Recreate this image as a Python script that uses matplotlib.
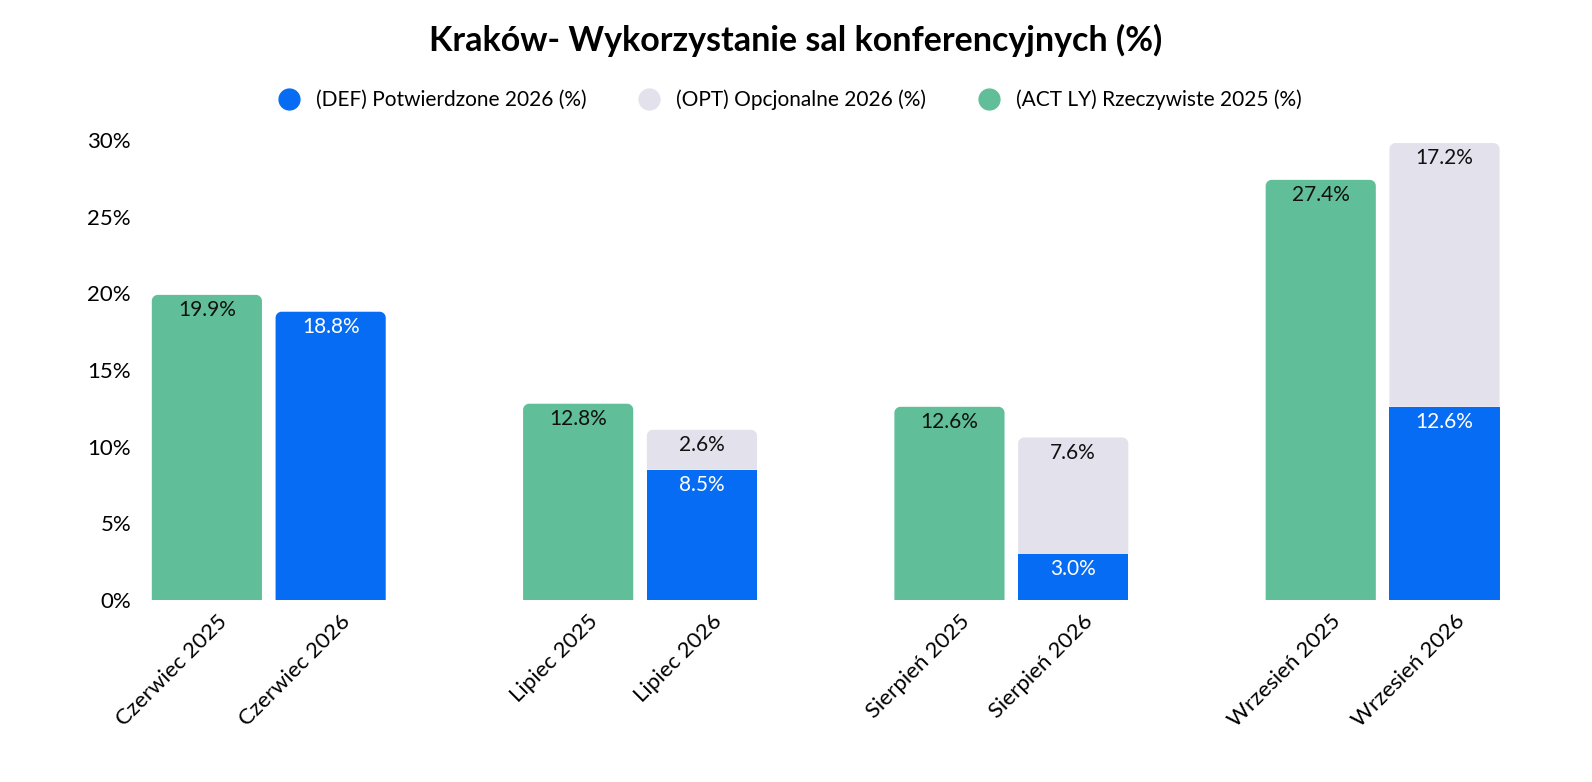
import matplotlib.pyplot as plt
from matplotlib.path import Path
from matplotlib.patches import PathPatch
from matplotlib.lines import Line2D

plt.rcParams['font.family'] = ['Lato', 'DejaVu Sans']

# Dane
miesiace = ['Czerwiec', 'Lipiec', 'Sierpień', 'Wrzesień']
act_2025 = [19.9, 12.8, 12.6, 27.4]   # (ACT LY) Rzeczywiste 2025
def_2026 = [18.8, 8.5, 3.0, 12.6]     # (DEF) Potwierdzone 2026
opt_2026 = [0.0, 2.6, 7.6, 17.2]      # (OPT) Opcjonalne 2026

kol_act = '#60bf98'
kol_def = '#076cf4'
kol_opt = '#e3e1ec'

fig = plt.figure(figsize=(15.92, 7.82), dpi=100)
ax = fig.add_axes([145 / 1592, 1 - 600 / 782, (1520 - 145) / 1592, 460 / 782])

poz_act = [3 * i for i in range(len(miesiace))]
poz_26 = [3 * i + 1 for i in range(len(miesiace))]
szer = 0.89

ax.set_xlim(-0.5, 10.61)
ax.set_ylim(0, 30)

# promien zaokraglenia w jednostkach danych
rx = 6 / 123.7
ry = 6 / 15.33


def zaokraglony(x, y0, w, h, kolor):
    # prostokat z zaokraglonymi gornymi rogami
    x0, x1, y1 = x - w / 2, x + w / 2, y0 + h
    k = 0.55
    verts = [(x0, y0), (x0, y1 - ry), (x0, y1 - ry + k * ry), (x0 + rx - k * rx, y1), (x0 + rx, y1),
             (x1 - rx, y1), (x1 - rx + k * rx, y1), (x1, y1 - ry + k * ry), (x1, y1 - ry),
             (x1, y0), (x0, y0)]
    codes = [Path.MOVETO, Path.LINETO, Path.CURVE4, Path.CURVE4, Path.CURVE4,
             Path.LINETO, Path.CURVE4, Path.CURVE4, Path.CURVE4,
             Path.LINETO, Path.CLOSEPOLY]
    ax.add_patch(PathPatch(Path(verts, codes), facecolor=kolor, edgecolor='none'))


for i in range(len(miesiace)):
    # slupek 2025
    zaokraglony(poz_act[i], 0, szer, act_2025[i], kol_act)
    ax.text(poz_act[i], act_2025[i] - 0.35, f'{act_2025[i]:.1f}%', ha='center', va='top',
            fontsize=15, color='#111111')
    # slupek 2026 (DEF + OPT)
    if opt_2026[i] > 0:
        ax.bar(poz_26[i], def_2026[i], width=szer, color=kol_def)
        zaokraglony(poz_26[i], def_2026[i], szer, opt_2026[i], kol_opt)
        ax.text(poz_26[i], def_2026[i] + opt_2026[i] - 0.35, f'{opt_2026[i]:.1f}%', ha='center',
                va='top', fontsize=15, color='#111111')
    else:
        zaokraglony(poz_26[i], 0, szer, def_2026[i], kol_def)
    ax.text(poz_26[i], def_2026[i] - 0.35, f'{def_2026[i]:.1f}%', ha='center', va='top',
            fontsize=15, color='white')

# osie
pozycje = []
etykiety = []
for i, m in enumerate(miesiace):
    pozycje += [poz_act[i], poz_26[i]]
    etykiety += [f'{m} 2025', f'{m} 2026']
ax.set_xticks([p + 0.08 for p in pozycje])
ax.set_xticklabels(etykiety, rotation=45, ha='right', rotation_mode='anchor', fontsize=16)
ax.set_yticks([0, 5, 10, 15, 20, 25, 30])
ax.set_yticklabels([f'{v}%' for v in [0, 5, 10, 15, 20, 25, 30]], fontsize=16)
ax.tick_params(axis='both', length=0)
ax.tick_params(axis='y', pad=10)
ax.tick_params(axis='x', pad=8)
for s in ax.spines.values():
    s.set_visible(False)

# tytul i legenda
fig.text(0.5, 1 - 40 / 782, 'Kraków- Wykorzystanie sal konferencyjnych (%)', ha='center', va='center',
         fontsize=24.5, fontweight='bold')
uchwyty = [Line2D([], [], marker='o', linestyle='none', markersize=15, color=k)
           for k in [kol_def, kol_opt, kol_act]]
fig.legend(uchwyty, ['(DEF) Potwierdzone 2026 (%)', '(OPT) Opcjonalne 2026 (%)', '(ACT LY) Rzeczywiste 2025 (%)'],
           loc='center', bbox_to_anchor=(785 / 1592, 1 - 100 / 782), ncol=3, frameon=False,
           fontsize=15, handletextpad=0.3, columnspacing=2.0)

fig.savefig('out.png', dpi=100)
